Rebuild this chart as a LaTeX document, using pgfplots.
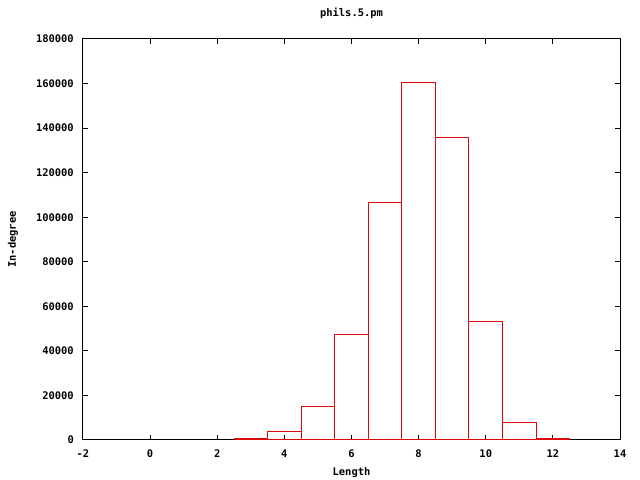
\documentclass[border=0pt]{standalone}
\usepackage{fontspec}
\setmainfont{DejaVu Sans Mono}[BoldFont={DejaVu Sans Mono Bold}]
\usepackage{pgfplots}
\pgfplotsset{compat=1.18}
\definecolor{barred}{RGB}{220,10,10}
\begin{document}
\fontsize{10.5}{12}\selectfont\bfseries
\begin{tikzpicture}[x=1bp,y=1bp]
\useasboundingbox (-83,-40) rectangle (557,440);
\begin{axis}[
  at={(0,0)}, anchor=south west,
  scale only axis, width=537bp, height=401bp,
  xmin=-2, xmax=14, ymin=0, ymax=180000,
  xtick={-2,0,2,4,6,8,10,12,14},
  xticklabels={-2,0,2,4,6,8,10,12,14},
  ytick={0,20000,40000,60000,80000,100000,120000,140000,160000,180000},
  yticklabels={0,20000,40000,60000,80000,100000,120000,140000,160000,180000},
  scaled y ticks=false,
  tick align=inside,
  major tick length=5bp,
  axis line style={line width=1bp},
  tick style={line width=1bp, black},
  xticklabel style={anchor=center, inner sep=0pt, yshift=-14bp},
  yticklabel style={anchor=east, inner sep=0pt, xshift=-9bp},
  every axis title shift=0pt,
  title={phils.5.pm},
  title style={at={(axis description cs:0.5,1.0648)}, anchor=center, yshift=0pt, inner sep=0pt},
  xlabel={Length},
  xlabel style={at={(axis description cs:0.5,-0.0823)}, anchor=center, inner sep=0pt},
  ylabel={In-degree},
  ylabel style={at={(axis description cs:-0.1304,0.5)}, anchor=center, inner sep=0pt},
  ]
\addplot[ybar, bar width=1, bar shift=0pt, draw=barred, fill=none, line width=1bp] coordinates {
  (3,850) (4,3900) (5,15250) (6,47450) (7,106700) (8,160600)
  (9,135900) (10,53300) (11,7950) (12,600)
};
\end{axis}
\end{tikzpicture}
\end{document}
